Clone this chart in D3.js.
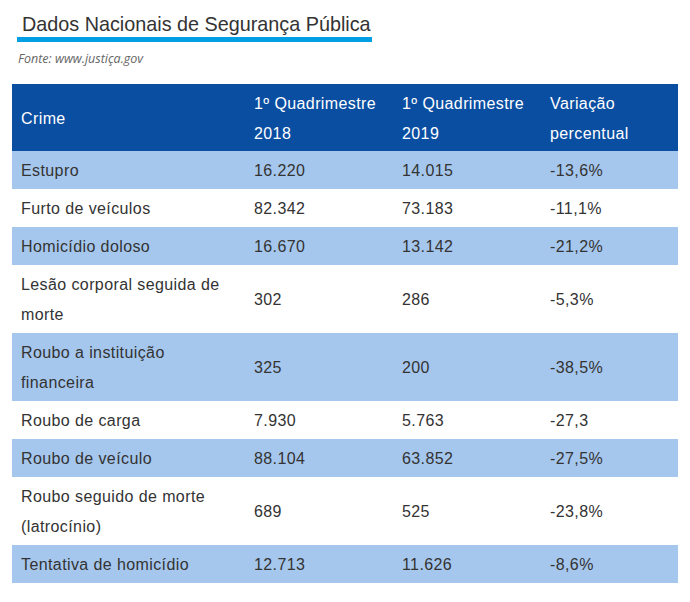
<!DOCTYPE html>
<html>
<head>
<meta charset="utf-8">
<script src="https://cdn.jsdelivr.net/npm/d3@7"></script>
<style>
  html, body { margin: 0; padding: 0; background: #fff; }
  svg { display: block; }
</style>
</head>
<body>
<script>
const title = "Dados Nacionais de Segurança Pública";
const source = "Fonte: www.justiça.gov";
const headers = [["Crime"], ["1º Quadrimestre", "2018"], ["1º Quadrimestre", "2019"], ["Variação", "percentual"]];
const crimes = ["Estupro", "Furto de veículos", "Homicídio doloso", "Lesão corporal seguida de morte",
  "Roubo a instituição financeira", "Roubo de carga", "Roubo de veículo",
  "Roubo seguido de morte (latrocínio)", "Tentativa de homicídio"];
const values2018 = ["16.220", "82.342", "16.670", "302", "325", "7.930", "88.104", "689", "12.713"];
const values2019 = ["14.015", "73.183", "13.142", "286", "200", "5.763", "63.852", "525", "11.626"];
const variation = ["-13,6%", "-11,1%", "-21,2%", "-5,3%", "-38,5%", "-27,3", "-27,5%", "-23,8%", "-8,6%"];

const W = 690, H = 602;
const svg = d3.select("body").append("svg").attr("width", W).attr("height", H);
const font = "'Liberation Sans', Arial, sans-serif";
const ls = 0.4;

// Title
svg.append("text").attr("x", 22).attr("y", 31)
  .attr("font-family", font).attr("font-size", 19.8).attr("fill", "#333").text(title);
svg.append("rect").attr("x", 17).attr("y", 37).attr("width", 355).attr("height", 5).attr("fill", "#009fe3");
svg.append("text").attr("x", 18).attr("y", 63)
  .attr("font-family", "'Open Sans', sans-serif").attr("font-style", "italic")
  .attr("font-size", 12.5).attr("fill", "#666").text(source);

// Table geometry
const tableLeft = 12, tableRight = 678, headerTop = 84;
const colEdges = [tableLeft, 245, 393, 541, tableRight];
const pad = 9, lineH = 30, vpad = 8, fs = 16;
const maxCrimeWidth = 205;

// wrap crime names by measured width
const measure = svg.append("text").attr("font-family", font).attr("font-size", fs)
  .attr("letter-spacing", ls).attr("visibility", "hidden");
function wrap(str) {
  const words = str.split(" ");
  const lines = [];
  let cur = "";
  words.forEach(w => {
    const test = cur ? cur + " " + w : w;
    measure.text(test);
    if (cur && measure.node().getComputedTextLength() > maxCrimeWidth) { lines.push(cur); cur = w; }
    else cur = test;
  });
  if (cur) lines.push(cur);
  return lines;
}
const rows = crimes.map((c, i) => ({ cells: [wrap(c), [values2018[i]], [values2019[i]], [variation[i]]] }));
measure.remove();

const headerH = d3.max(headers, h => h.length) * lineH + vpad - 1;
let y = headerTop + headerH;
rows.forEach(r => { r.lines = d3.max(r.cells, c => c.length); r.h = r.lines * lineH + vpad; r.y = y; y += r.h; });

// Header
svg.append("rect").attr("x", tableLeft).attr("y", headerTop).attr("width", tableRight - tableLeft)
  .attr("height", headerH).attr("fill", "#0a4ea2");
function drawCell(g, lines, x, top, h, color) {
  const cy = top + h / 2;
  const n = lines.length;
  lines.forEach((ln, k) => {
    g.append("text").attr("x", x).attr("y", cy + (k - (n - 1) / 2) * lineH + 6)
      .attr("font-family", font).attr("font-size", fs).attr("letter-spacing", ls)
      .attr("fill", color).text(ln);
  });
}
const hg = svg.append("g");
headers.forEach((h, j) => drawCell(hg, h, colEdges[j] + pad, headerTop, headerH, "#fff"));

// Body rows
const rg = svg.selectAll("g.row").data(rows).join("g").attr("class", "row");
rg.append("rect").attr("x", tableLeft).attr("y", d => d.y).attr("width", tableRight - tableLeft)
  .attr("height", d => d.h).attr("fill", (d, i) => i % 2 === 0 ? "#a6c7ed" : "#fff");
rg.each(function(d) {
  const g = d3.select(this);
  d.cells.forEach((c, j) => drawCell(g, c, colEdges[j] + pad, d.y, d.h, "#333"));
});
</script>
</body>
</html>
